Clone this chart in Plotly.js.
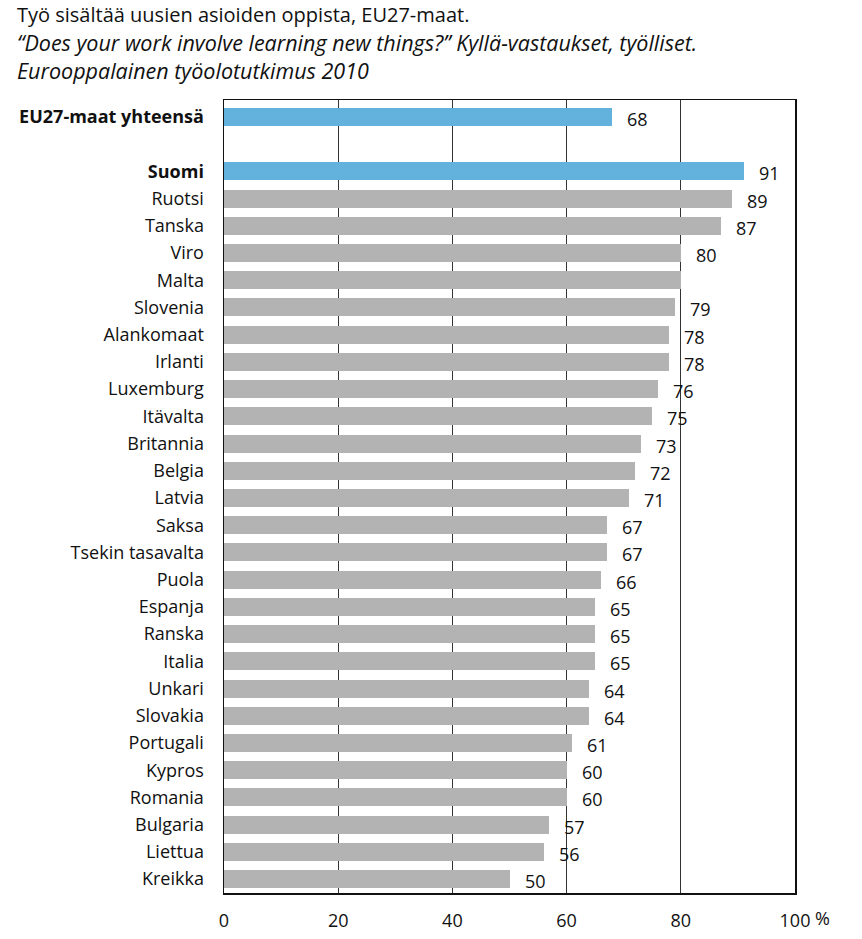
<!DOCTYPE html>
<html>
<head>
<meta charset="utf-8">
<script src="https://cdn.plot.ly/plotly-3.0.1.min.js"></script>
<style>html,body{margin:0;padding:0;background:#fff;}#chart{width:862px;height:939px;}</style>
</head>
<body>
<div id="chart"></div>
<script>
// Data
const categories = ["EU27-maat yhteensä", "", "Suomi", "Ruotsi", "Tanska", "Viro", "Malta", "Slovenia", "Alankomaat", "Irlanti", "Luxemburg", "Itävalta", "Britannia", "Belgia", "Latvia", "Saksa", "Tsekin tasavalta", "Puola", "Espanja", "Ranska", "Italia", "Unkari", "Slovakia", "Portugali", "Kypros", "Romania", "Bulgaria", "Liettua", "Kreikka"];
const values = [68, null, 91, 89, 87, 80, 80, 79, 78, 78, 76, 75, 73, 72, 71, 67, 67, 66, 65, 65, 65, 64, 64, 61, 60, 60, 57, 56, 50];
const valueLabels = ["68", "", "91", "89", "87", "80", "", "79", "78", "78", "76", "75", "73", "72", "71", "67", "67", "66", "65", "65", "65", "64", "64", "61", "60", "60", "57", "56", "50"];
const highlighted = ["EU27-maat yhteensä", "Suomi"];
const xTickVals = [0, 20, 40, 60, 80, 100];
const xTickText = ["0", "20", "40", "60", "80", "100"];
const titleLines = ["Työ sisältää uusien asioiden oppista, EU27-maat.", "“Does your work involve learning new things?” Kyllä-vastaukset, työlliset.", "Eurooppalainen työolotutkimus 2010"];

const BLUE = "#63b2de";
const GRAY = "#b3b3b3";
const FONT = "Open Sans, sans-serif";
const TXT = "#111";

const idx = categories.map((c, i) => i);
const colors = categories.map(c => highlighted.includes(c) ? BLUE : GRAY);
const tickText = categories.map(c => highlighted.includes(c) ? "<b>" + c + "</b>" : c);

const barTrace = {
  type: "bar",
  orientation: "h",
  x: values,
  y: idx,
  width: 0.66,
  marker: {color: colors, line: {width: 0}},
  hoverinfo: "skip",
  showlegend: false
};

const annotations = [];
values.forEach((v, i) => {
  if (v !== null && valueLabels[i] !== "") {
    annotations.push({
      x: v, y: i, xref: "x", yref: "y",
      text: valueLabels[i], showarrow: false,
      xanchor: "left", yanchor: "middle",
      xshift: 13, yshift: -2,
      font: {family: FONT, size: 18, color: TXT}
    });
  }
});
annotations.push({
  x: 100, y: 0, xref: "x", yref: "paper",
  text: "%", showarrow: false, xanchor: "left", yanchor: "top",
  xshift: 18, yshift: -11,
  font: {family: FONT, size: 18, color: TXT}
});
// title lines
const titleY = [14, 43, 70];
const titleSize = [20, 21.5, 21.5];
titleLines.forEach((t, i) => {
  annotations.push({
    x: 15, y: 939 - titleY[i], xref: "paper", yref: "paper",
    text: i === 0 ? t : "<i>" + t + "</i>", showarrow: false,
    xanchor: "left", yanchor: "middle",
    font: {family: FONT, size: titleSize[i], color: TXT}
  });
});
// convert pixel positions to paper coords
const L = 224, R = 67, T = 100, B = 46, W = 862, H = 939;
annotations.forEach(a => {
  if (a.xref === "paper" && a.x > 1) {
    a.x = (a.x - L) / (W - L - R);
    a.y = (a.y - B) / (H - T - B);
  }
});

const layout = {
  width: W, height: H,
  margin: {l: L, r: R, t: T, b: B},
  paper_bgcolor: "#fff", plot_bgcolor: "#fff",
  xaxis: {
    range: [0, 100],
    tickvals: xTickVals, ticktext: xTickText,
    showgrid: true, gridcolor: "#333", gridwidth: 1,
    zeroline: false,
    showline: true, linecolor: "#111", linewidth: 1.5, mirror: true,
    ticks: "", ticklabelstandoff: 11,
    tickfont: {family: FONT, size: 18, color: TXT},
    fixedrange: true
  },
  yaxis: {
    range: [28.51, -0.62],
    tickvals: idx, ticktext: tickText,
    showgrid: false, zeroline: false,
    showline: true, linecolor: "#111", linewidth: 1.5, mirror: true,
    ticks: "", ticklabelstandoff: 15,
    tickfont: {family: FONT, size: 18, color: TXT},
    fixedrange: true
  },
  bargap: 0,
  annotations: annotations
};

Plotly.newPlot("chart", [barTrace], layout, {displayModeBar: false, staticPlot: true});
</script>
</body>
</html>
